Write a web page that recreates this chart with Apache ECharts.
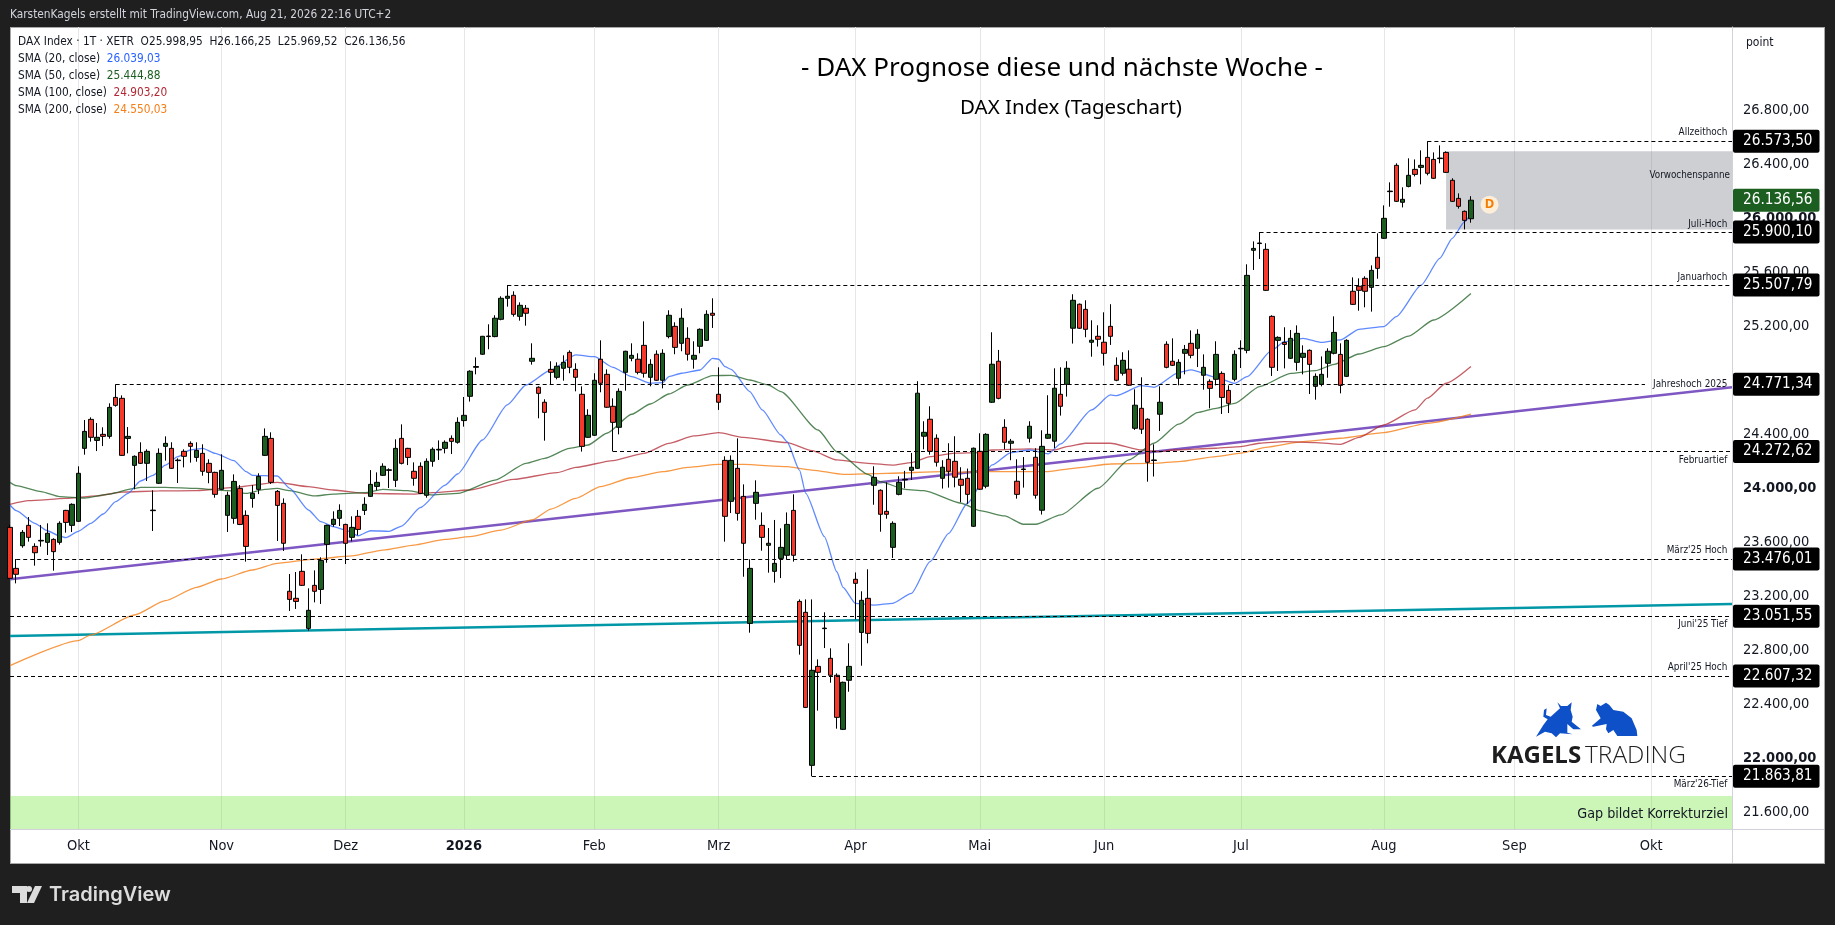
<!DOCTYPE html>
<html><head><meta charset="utf-8">
<script src="https://cdn.jsdelivr.net/npm/echarts@6/dist/echarts.min.js"></script>
<style>
html,body{margin:0;padding:0;background:#1f1f1f;width:1835px;height:925px;overflow:hidden}
#frame{position:absolute;left:10px;top:27px;width:1815px;height:837px;box-sizing:border-box;background:#fff;border:1px solid #a8a8a8}
#c{position:absolute;left:0;top:0;width:1835px;height:925px}
</style></head><body><div id="frame"></div><div id="c"></div>
<script>
const opens=[23710,23406,23574,23725,23569,23609,23599,23621,23599,23836,23725,23755,24296,24511,24355,24400,24385,24674,24667,24370,24170,24266,24185,23834,24037,24311,24296,24205,24274,24333,24229,24259,24185,24118,23992,23799,23777,23999,23799,23925,23992,24244,24370,23977,23888,23236,23184,23384,22961,23280,23250,23584,23732,23777,23732,23636,23792,23836,23940,24014,24096,24133,24059,24370,24296,24126,24163,23948,24200,24284,24296,24370,24341,24502,24682,24897,24994,25125,25125,25253,25409,25431,25275,25335,24942,24749,24638,24882,24823,24890,25008,24882,24697,24378,24393,24957,24845,24608,24452,24860,24964,24957,25060,24823,24994,24801,25125,25201,25075,25112,24957,25053,25097,25298,24697,24207,23903,24148,23940,22998,23888,23725,23577,23384,23480,23503,23836,23161,23080,21945,22679,22959,22739,22613,22212,22576,23325,22931,23184,24022,23985,23829,23562,23955,24062,24133,24148,24386,24512,24371,24074,24215,24200,24067,24074,23718,24274,24015,24638,24942,24452,24334,24052,24139,24371,24230,23837,24371,24349,24697,24771,25187,25365,25327,25083,25127,25083,25201,24912,24853,24883,24445,24593,24512,24206,24549,25068,24942,24816,25001,25075,25038,24838,24793,24808,24852,24726,24808,25034,25023,25765,25815,25772,25275,25097,25082,24964,24934,24971,25023,24756,24771,24927,25001,24993,24830,25461,25498,25557,25490,25713,25854,26200,26395,26121,26239,26365,26380,26454,26439,26445,26491,26284,26150,26054,25998.95];
const closes=[23332,23362,23673,23636,23522,23614,23666,23530,23740,23747,23881,24111,24422,24378,24378,24385,24600,24615,24244,24385,24237,24185,24274,23838,24259,24333,24148,24209,24237,24311,24281,24126,24118,23955,24133,23948,24051,23732,23569,23962,24088,24385,24044,23873,23592,23176,23161,23280,23095,23236,23465,23725,23770,23836,23592,23710,23695,23881,24029,24044,24163,24137,24296,24185,24229,24074,23962,24200,24289,24289,24341,24348,24489,24541,24868,24903,25127,25129,25261,25409,25424,25290,25357,25298,24964,24704,24563,24860,24905,24934,24897,24823,24311,24541,24801,24779,24601,24489,24719,25016,24986,24860,24853,24919,24801,25001,25283,25045,25261,24994,24986,25179,25290,25283,24638,23792,24207,23814,23592,23406,23970,23636,23592,23443,23562,23732,23503,22835,22375,22650,22635,22963,22613,22301,22561,22679,23295,23169,22924,24081,23807,23807,23740,24044,24066,24156,24705,24415,24274,24193,24156,24126,24082,24022,23955,24297,23993,24400,24920,24667,24341,24349,23955,24143,24460,23948,24311,24400,24742,24608,24890,25394,25187,25179,25098,25105,25001,25127,24801,24949,24764,24616,24438,24193,24210,24638,24897,24912,24934,25030,24986,25142,24897,24741,24993,24674,24630,24993,25038,25579,25779,25819,25468,24897,25119,25067,25112,25149,25001,24919,24830,24845,25016,25156,24763,25097,25364,25468,25461,25616,25631,26002,26204,26128,26143,26321,26328,26395,26336,26299,26449,26343,26128,26091,25987,26136.56];
const lows=[23332,23295,23559,23604,23426,23567,23505,23389,23582,23671,23676,23750,24249,24346,24276,24313,24368,24605,24240,24259,23992,24180,24054,23683,24032,24205,24143,24039,24155,24190,24197,24093,24037,23930,23987,23676,23737,23727,23456,23856,23957,24239,24032,23609,23535,23090,23105,23275,22944,23154,23142,23448,23715,23720,23438,23606,23651,23802,23935,23985,24091,24002,24009,24177,24172,24019,23957,23930,24160,24210,24259,24254,24331,24457,24643,24845,24990,25031,25120,25246,25347,25273,25243,25206,24917,24519,24353,24771,24808,24798,24853,24719,24272,24373,24388,24712,24596,24272.62,24400,24724,24942,24845,24821,24756,24796,24741,25112,24994,25016,24947,24887,25001,25092,25189,24581,23604,23816,23760,23344,22929,23767,23537,23374,23300,23334,23473,23456,22766,22370,21863.81,22351,22815,22558,22217,22207,22491,23028,22684,22850,23878,23678,23774,23483,23948,24000,24062,24143,24289,24250,24161,23998,24005,24007,23896,23884,23713,23988,24000,24633,24660,24289,24208,23923,24005,24339,23923,23805,24366,24297,24539,24680,25073,25182,25120,24976,25051,24910,25063,24794,24836,24759,24433,24403,24049,24087,24425,24890,24907,24764,24845,24964,24899,24731,24593,24763,24551,24558,24793,24892,25001,25619,25700,25463,24833,24870,24889,24959,24872,24845,24699,24657,24756,24820,24993,24704,24825,25359,25317,25342,25310,25554,25849,26088,26123,26083,26232,26313,26254,26321,26294,26410,26338,26123,26074,25920,25969.52];
const highs=[23730,23475,23690,23787,23592,23728,23740,23629,23755,23840,23888,24163,24506,24526,24484,24452,24630,24771.34,24689,24454,24244,24341,24289,23985,24296,24385,24341,24222,24289,24348,24341,24326,24215,24123,24252,23975,24103,24024,23836,24024,24111,24444,24415,23987,23925,23364,23379,23510,23258,23391,23488,23730,23829,23881,23737,23792,23839,23933,24135,24118,24185,24148,24363,24474,24300,24192,24192,24222,24303,24355,24355,24392,24526,24677,24875,24971,25130,25216,25283,25424,25507.79,25461,25379,25359,25075,24756,24660,24942,24934,24986,25023,24927,24756,24586,24853,25097,24882,24667,24741,25020,25075,25001,25238,24957,25023,25031,25320,25231,25335,25194,25090,25186,25320,25409,24897,24237,24244,24370,24029,23473,24059,23821,23705,23765,23703,23821,23955,23176,23176,23176,22731,23080,22813,22627,22566,22850,23376,23236,23399,24163,23992,24044,23755,24089,24129,24262,24794,24497,24608,24400,24208,24334,24386,24156,24146,24302,24408,24408,25157,25026,24512,24366,24215,24232,24497,24297,24430,24690,24890,24897,24942,25439,25370,25394,25246,25209,25305,25365,24971,25009,25023,24734,24823,24519,24326,24756,25090,25112,24957,25063,25171,25179,24993,24808,25090,24867,24763,25023,25097,25661,25831,25900.10,25817,25283,25127,25194,25174,25208,25060,25030,24852,24978,25038,25275,25075,25105,25564,25557,25572,25653,25891,26098,26269,26410,26232,26447,26439,26506,26573.50,26491,26543,26499,26299,26187,26060,26166.25];

const sma20Idx=[0,1,4,6,8,9,11,13,15,17,19,21,23,25,27,29,31,33,36,38,39,43,45,48,50,52,54,56,58,61,63,66,70,72,76,80,83,87,91,94,97,100,103,105,106,108,111,113,114,115,116,119,121,124,125,127,128,131,133,134,136,139,142,145,148,151,154,158,161,164,167,169,174,177,178,182,184,188,190,194,197,199,203,205,208,211,214,217,221,223,227,230,232,234,235];
const sma20Val=[23876,23834,23740,23685,23646,23634,23681,23740,23809,23901,23962,24054,24096,24172,24234,24284,24296,24259,24205,24123,24096,24091,23999,23839,23752,23715,23690,23648,23685,23681,23720,23856,24024,24106,24358,24618,24766,24877,24989,24976,24897,24828,24779,24783,24828,24853,24877,24964,24957,24902,24882,24717,24581,24395,24345,24135,23962,23641,23381,23265,23147,23134,23147,23221,23456,23666,23889,24173,24265,24284,24255,24329,24581,24692,24687,24761,24749,24858,24878,24823,24778,24828,25025,25087,25112,25082,25100,25179,25199,25273,25507,25705,25854,25977,26039.03];
const sma50Idx=[0,1,5,8,12,16,20,21,25,30,35,38,41,43,45,49,52,57,60,64,68,72,78,83,86,90,93,96,100,103,106,109,113,116,119,122,124,130,133,138,140,144,147,153,156,160,163,165,169,175,180,184,188,191,194,197,201,206,210,213,217,221,225,229,235];
const sma50Val=[24044,24019,23975,23938,23928,23957,23999,24007,24007,23999,23982,23962,23992,23999,23982,23943,23957,23967,23992,23982,23950,23962,24060,24185,24222,24296,24321,24408,24549,24625,24699,24766,24835,24838,24803,24766,24717,24432,24271,24103,24049,23992,23982,23889,23834,23795,23733,23733,23802,24000,24210,24334,24475,24561,24593,24630,24754,24852,24872,24919,24996,25050,25129,25248,25444.88];
const sma100Idx=[0,3,9,14,18,24,30,36,43,48,52,57,65,68,74,81,88,91,97,102,106,110,114,118,125,129,133,138,142,145,148,152,156,158,164,168,170,173,177,182,185,187,194,198,201,205,210,214,217,221,226,228,231,235];
const sma100Val=[23881,23908,23925,23943,23972,23980,23982,24007,24044,24012,23987,23962,23957,23967,23987,24066,24116,24155,24205,24259,24333,24388,24412,24378,24338,24279,24210,24185,24172,24190,24234,24260,24265,24284,24292,24284,24309,24334,24334,24284,24272,24284,24297,24309,24334,24346,24339,24326,24378,24470,24581,24668,24779,24903.20];
const sma200Idx=[0,11,13,20,25,30,34,39,43,49,55,60,65,70,74,79,84,87,91,95,100,105,109,114,118,125,129,134,141,150,153,156,167,171,177,184,188,194,198,202,208,214,221,228,235];
const sma200Val=[22684,22870,22912,23060,23166,23265,23327,23394,23443,23475,23498,23542,23579,23621,23641,23690,23765,23846,23925,24012,24078,24123,24155,24177,24177,24160,24135,24103,24111,24123,24119,24124,24124,24148,24180,24185,24198,24235,24260,24304,24346,24371,24413,24482,24550.03];

const levelPrices=[26573.50,25900.10,25507.79,24771.34,24272.62,23476.01,23051.55,22607.32,21863.81];
const levelStart=[228,201,80,17,97,1,0,0,129];
const levelDashEnd=[277,277,277,263,277,277,277,277,277];
const levelNames=["Allzeithoch","Juli-Hoch","Januarhoch","Jahreshoch 2025","Februartief","März'25 Hoch","Juni'25 Tief","April'25 Hoch","März'26-Tief"];
const levelNameShift=[-8.5,-8,-8,0,9,-8.5,8,-8.5,8];
const lastPrice=26136.56;
const purpleEnds=[23325,24749];
const tealEnds=[22905,23142];
const rangeBox=[26499,25920];
const gapBox=[21717,21473];
const priceTicks=[21600,22000,22400,22800,23200,23600,24000,24400,24800,25200,25600,26000,26400,26800];
const boldTicks=[22000,24000,26000];
const closedDays=["2025-12-24","2025-12-25","2025-12-26","2025-12-31","2026-01-01","2026-04-03","2026-04-06","2026-05-01"];
const monthNames=["Jan","Feb","Mrz","Apr","Mai","Jun","Jul","Aug","Sep","Okt","Nov","Dez"];
const legendLines=[["SMA (20, close)","26.039,03","#2962ff"],["SMA (50, close)","25.444,88","#1b5e20"],["SMA (100, close)","24.903,20","#b22833"],["SMA (200, close)","24.550,03","#f57f17"]];

const categories=[];const monthLabel={};
(function(){let d=new Date(Date.UTC(2025,8,16));let last=8;
 while(categories.length<278){const w=d.getUTCDay();const s=d.toISOString().slice(0,10);
  if(w!==0&&w!==6&&!closedDays.includes(s)){const m=d.getUTCMonth();
   if(m!==last){monthLabel[categories.length]=m===0?String(d.getUTCFullYear()):monthNames[m];last=m;}
   categories.push(s);}
  d=new Date(d.getTime()+864e5);}})();

const F='"DejaVu Sans Condensed","Noto Sans",sans-serif';
const INK='#131722';
const de=v=>{const s=v.toFixed(2).split('.');return s[0].replace(/\B(?=(\d{3})+$)/g,'.')+','+s[1];};
const last=categories.length-1;
const pairs=(ix,v)=>ix.map((k,i)=>[categories[k],v[i]]);
const sma=(name,ix,v,col,op)=>({name,type:'line',data:pairs(ix,v),symbol:'none',smooth:0.2,smoothMonotone:'x',z:2,silent:true,
  lineStyle:{color:col,width:1.3,opacity:op}});
const z8=a=>a.map(q=>[1480+q[0]/3,450+q[1]/3]);
const bull=[[168,860],[190,825],[203,808],[190,800],[192,780],[200,775],[198,795],[212,800],[240,775],[232,757],[243,768],[262,768],[275,757],[272,780],[278,800],[275,815],[303,838],[280,838],[262,822],[262,848],[278,853],[240,850],[228,862],[215,850],[195,845]];
const bear=[[335,828],[362,805],[348,780],[352,762],[362,768],[378,758],[388,765],[400,780],[430,785],[455,805],[470,840],[472,858],[412,858],[400,840],[385,850],[378,838],[380,822],[340,830]];
const txt=(text,x,y,size,fill,extra)=>({type:'text',z:50,silent:true,x,y,style:Object.assign({text,fill,font:size+'px '+F,textAlign:'left',textVerticalAlign:'middle'},extra||{})});

const chart=echarts.init(document.getElementById('c'),null,{renderer:'canvas'});
const lvlLines=[];
levelPrices.forEach((p,i)=>{
  const e=levelDashEnd[i];
  if(e===last){
    lvlLines.push([{coord:[categories[levelStart[i]],p],name:de(p)},{coord:[categories[last],p]}]);
  }else{
    lvlLines.push([{coord:[categories[levelStart[i]],p],label:{show:false}},{coord:[categories[e],p]}]);
    lvlLines.push([{coord:[categories[e],p],name:de(p),lineStyle:{color:'transparent'}},{coord:[categories[last],p]}]);
  }
});
const lastLine=[{coord:[categories[235],lastPrice],name:de(lastPrice),
   lineStyle:{color:'transparent'},label:{backgroundColor:'#1b5e20'}},{coord:[categories[last],lastPrice]}];

chart.setOption({
 animation:false,backgroundColor:'transparent',
 grid:{left:10,right:103,top:27,bottom:96,containLabel:false},
 xAxis:{type:'category',data:categories,boundaryGap:false,
  axisLine:{show:false},axisTick:{show:false},
  splitLine:{show:true,interval:(i)=>monthLabel[i]!==undefined,lineStyle:{color:'#e6e6e8',width:1}},
  axisLabel:{interval:(i)=>monthLabel[i]!==undefined,formatter:(v,i)=>{const t=monthLabel[i]||'';return t==='2026'?'{b|'+t+'}':t;},
    margin:10,fontFamily:F,fontSize:14.5,color:INK,hideOverlap:false,
    rich:{b:{fontFamily:F,fontSize:14.5,fontWeight:'bold',color:INK}}}},
 yAxis:{type:'value',position:'right',min:21473,max:27421,scale:true,splitLine:{show:false},
  axisLine:{show:true,lineStyle:{color:'#d1d1dc',width:1}},axisTick:{show:false},
  axisLabel:{customValues:priceTicks,margin:11,fontFamily:F,fontSize:14.5,color:INK,
   formatter:v=>boldTicks.includes(v)?'{b|'+de(v)+'}':de(v),
   rich:{b:{fontFamily:F,fontSize:14.5,fontWeight:'bold',color:INK}}}},
 series:[
  {name:'helper',type:'line',data:[],z:1,silent:true,
   markArea:{silent:true,z:1,data:[
     [{coord:[categories[231],rangeBox[0]],itemStyle:{color:'rgba(120,123,134,0.36)'},
       label:{show:true,position:'insideRight',formatter:'Vorwochenspanne',fontFamily:F,fontSize:9.8,color:INK,offset:[0,-15],distance:2}},
      {coord:[categories[last],rangeBox[1]]}],
     [{coord:[categories[0],gapBox[0]],itemStyle:{color:'rgba(100,225,40,0.33)'},
       label:{show:true,position:'insideRight',formatter:'Gap bildet Korrekturziel',fontFamily:F,fontSize:14.2,color:INK,distance:4,offset:[0,2]}},
      {coord:[categories[last],gapBox[1]]}]]},
   markLine:{silent:true,symbol:['none','none'],z:6,animation:false,
    lineStyle:{color:'#000',type:[4,3],width:1},
    label:{show:true,position:'end',distance:1,formatter:'{b}',color:'#fff',backgroundColor:'#000',fontFamily:F,fontSize:15.2,lineHeight:17,
      padding:[3,7,3,10],borderRadius:2},
    data:lvlLines.concat([lastLine])},
   markPoint:{silent:true,z:7,
    data:levelPrices.map((p,i)=>({coord:[categories[276],p],symbol:'circle',symbolSize:1,itemStyle:{color:'transparent'},
      label:{show:true,position:'left',distance:0,offset:[2,levelNameShift[i]],formatter:levelNames[i],fontFamily:F,fontSize:9.9,color:INK}})).concat([
      {coord:[categories[238],26103],symbol:'circle',symbolSize:18,itemStyle:{color:'#fdeed9'},
       label:{show:true,position:'inside',formatter:'D',fontFamily:'"Noto Sans",sans-serif',fontSize:13,fontWeight:'bold',color:'#f57c00'}}])}},
  {name:'trends',type:'line',data:[],z:1,silent:true,
   markLine:{silent:true,symbol:['none','none'],z:1,animation:false,label:{show:false},
    data:[
     [{coord:[categories[0],purpleEnds[0]],lineStyle:{color:'#7e57c2',width:2.5,type:'solid'}},{coord:[categories[last],purpleEnds[1]]}],
     [{coord:[categories[0],tealEnds[0]],lineStyle:{color:'#0097a7',width:2.5,type:'solid'}},{coord:[categories[last],tealEnds[1]]}]]}},
  sma('SMA200',sma200Idx,sma200Val,'#f57f17',0.8),
  sma('SMA100',sma100Idx,sma100Val,'#b22833',0.75),
  sma('SMA50',sma50Idx,sma50Val,'#1b5e20',0.75),
  sma('SMA20',sma20Idx,sma20Val,'#2962ff',0.75),
  {name:'DAX',type:'candlestick',z:3,clip:true,barWidth:5,silent:true,
   data:opens.map((o,i)=>[o,closes[i],lows[i],highs[i]]),
   itemStyle:{color:'#1b5e20',color0:'#f7392b',borderColor:'#000',borderColor0:'#000',borderWidth:1}}
 ],
 graphic:[
  {type:'line',z:1,silent:true,shape:{x1:10,y1:829.5,x2:1824,y2:829.5},style:{stroke:'#d1d1dc',lineWidth:1}},
  {type:'line',z:1,silent:true,shape:{x1:1732.5,y1:829,x2:1732.5,y2:863},style:{stroke:'#d1d1dc',lineWidth:1}},
  txt('KarstenKagels erstellt mit TradingView.com, Aug 21, 2026 22:16 UTC+2',10,15,11.8,'#d1d4dc'),
  txt('DAX Index · 1T · XETR  O25.998,95  H26.166,25  L25.969,52  C26.136,56',18,41.5,11.75,INK),
  ...legendLines.map((l,i)=>({type:'text',z:50,silent:true,x:18,y:59+i*17,style:{
     text:'{a|'+l[0]+'}  {v|'+l[1]+'}',textVerticalAlign:'middle',textAlign:'left',
     rich:{a:{fontFamily:F,fontSize:11.75,fill:INK,color:INK},v:{fontFamily:F,fontSize:11.75,fill:l[2],color:l[2]}}}})),
  txt('point',1746,43,12,INK),
  txt('- DAX Prognose diese und nächste Woche -',1062,69,26,'#000',{textAlign:'center',font:'26px "Noto Sans",'+F}),
  txt('DAX Index (Tageschart)',1071,108,20.5,'#000',{textAlign:'center',font:'20.5px "Noto Sans",'+F}),
  {type:'polygon',z:40,silent:true,shape:{points:z8(bull)},style:{fill:'#0d50c8'}},
  {type:'polygon',z:40,silent:true,shape:{points:z8(bear)},style:{fill:'#0d50c8'}},
  txt('KAGELS',1491,756,24,'#1d1d1f',{font:'bold 24px "Open Sans",sans-serif'}),
  txt('TRADING',1585,756,24.5,'#222',{font:'300 24.5px "Open Sans",sans-serif'}),
  {type:'polygon',z:40,silent:true,shape:{points:[[12,886],[27,886],[27,903],[20,903],[20,893],[12,893]]},style:{fill:'#dcdcdc'}},
  {type:'circle',z:40,silent:true,shape:{cx:29,cy:889,r:3},style:{fill:'#dcdcdc'}},
  {type:'polygon',z:40,silent:true,shape:{points:[[35,886],[42,886],[34,903],[27,903]]},style:{fill:'#dcdcdc'}},
  txt('TradingView',49,895,20,'#dcdcdc',{font:'600 20px Inter,Roboto,sans-serif'})
 ]
});
</script></body></html>
